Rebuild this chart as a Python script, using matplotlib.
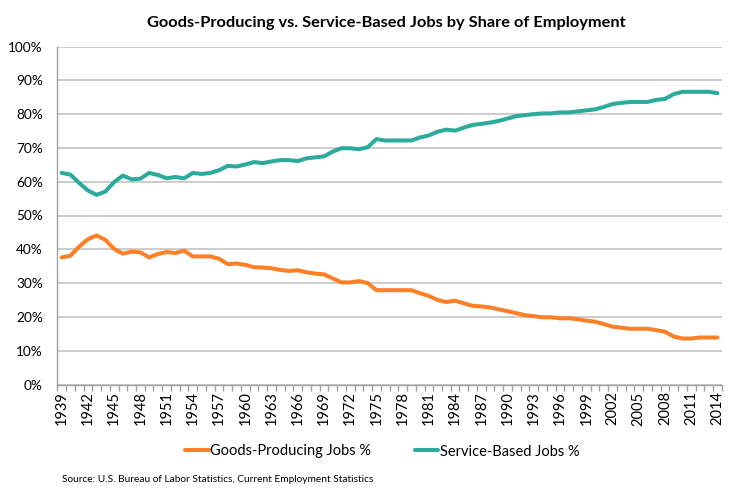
import matplotlib.pyplot as plt
import numpy as np

plt.rcParams['font.family'] = ['Lato', 'DejaVu Sans']

years = list(range(1939, 2015))

goods_pct = [
    37.6, 38.1, 40.8, 43.0, 44.1, 42.8, 40.1, 38.7, 39.3, 39.1,
    37.6, 38.6, 39.2, 38.9, 39.6, 37.9, 37.9, 37.9, 37.2, 35.6,
    35.8, 35.4, 34.7, 34.6, 34.4, 33.9, 33.6, 33.8, 33.2, 32.8,
    32.6, 31.4, 30.2, 30.2, 30.6, 30.0, 27.9, 27.9, 27.9, 27.9,
    27.9, 27.0, 26.2, 25.0, 24.4, 24.8, 24.0, 23.3, 23.1, 22.8,
    22.2, 21.7, 21.1, 20.5, 20.2, 19.9, 19.9, 19.6, 19.6, 19.3,
    18.9, 18.6, 17.9, 17.1, 16.8, 16.5, 16.5, 16.5, 16.1, 15.6,
    14.2, 13.6, 13.6, 13.9, 13.9, 13.9,
]

service_pct = [
    62.6, 62.1, 59.6, 57.4, 56.1, 57.1, 59.9, 61.8, 60.7, 60.9,
    62.6, 62.0, 61.0, 61.4, 61.0, 62.6, 62.3, 62.6, 63.4, 64.7,
    64.5, 65.1, 65.8, 65.5, 66.0, 66.4, 66.4, 66.1, 66.9, 67.2,
    67.5, 68.9, 69.9, 69.9, 69.6, 70.2, 72.6, 72.2, 72.2, 72.2,
    72.2, 73.1, 73.7, 74.8, 75.4, 75.1, 76.0, 76.8, 77.1, 77.5,
    78.0, 78.7, 79.4, 79.7, 80.0, 80.2, 80.2, 80.5, 80.5, 80.8,
    81.1, 81.4, 82.1, 83.0, 83.3, 83.6, 83.6, 83.6, 84.2, 84.5,
    85.9, 86.6, 86.6, 86.6, 86.6, 86.2,
]

label_years = years[::3]

orange = '#fd7f26'
teal = '#2bab9b'
grid_grey = '#c4c4c4'

fig = plt.figure(figsize=(7.35, 5), dpi=100)
ax = fig.add_axes([0.078, 0.231, 0.904, 0.676])

ax.plot(years, goods_pct, color=orange, lw=2.9, label='Goods-Producing Jobs %',
        solid_joinstyle='round', solid_capstyle='round')
ax.plot(years, service_pct, color=teal, lw=2.9, label='Service-Based Jobs %',
        solid_joinstyle='round', solid_capstyle='round')

ax.set_xlim(years[0] - 0.5, years[-1] + 0.5)
ax.set_ylim(0, 100)

# y axis
ax.set_yticks(np.arange(0, 101, 10))
ax.set_yticklabels([f'{v}%' for v in range(0, 101, 10)])
ax.yaxis.grid(True, color=grid_grey, lw=1.2)
ax.set_axisbelow(True)
ax.tick_params(axis='y', length=0, labelsize=9.8, pad=10.5, colors='black')

# x axis: labels every 3 years, small ticks between categories
ax.set_xticks(label_years)
ax.set_xticklabels([str(y) for y in label_years], rotation=90)
ax.set_xticks(np.arange(years[0] - 0.5, years[-1] + 1), minor=True)
ax.tick_params(axis='x', which='major', length=0, labelsize=10.5, pad=5)
ax.tick_params(axis='x', which='minor', length=4, color='#a0a0a0', width=1)

for side in ['top', 'right']:
    ax.spines[side].set_visible(False)
ax.spines['left'].set_color('#a0a0a0')
ax.spines['bottom'].set_color('#a0a0a0')
ax.spines['left'].set_linewidth(1)
ax.spines['bottom'].set_linewidth(1)

fig.text(0.526, 0.955, 'Goods-Producing vs. Service-Based Jobs by Share of Employment',
         ha='center', va='center', fontsize=11.8, fontweight='bold')

fig.legend(loc='center', bbox_to_anchor=(0.52, 0.097), ncol=2, frameon=False,
           fontsize=10.5, handlelength=1.6, handletextpad=0.1, columnspacing=3.0)

fig.text(0.084, 0.04, 'Source: U.S. Bureau of Labor Statistics, Current Employment Statistics',
         ha='left', va='center', fontsize=7.3)

fig.savefig('out.png', dpi=100)
